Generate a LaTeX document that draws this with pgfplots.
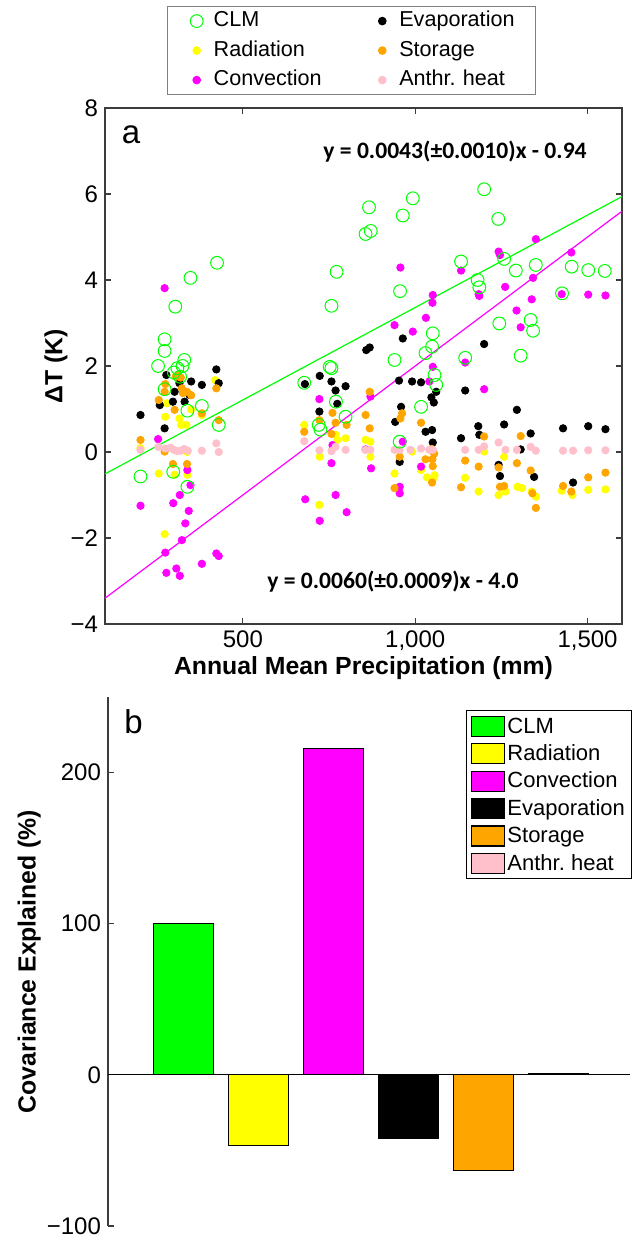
\documentclass[border=0pt]{standalone}
\usepackage{pgfplots}
\pgfplotsset{compat=1.18}
\usepackage{fontspec}
\setmainfont{Liberation Sans}
\newfontfamily\eqfont{Carlito}
\definecolor{cgreen}{RGB}{0,255,0}
\definecolor{cyellow}{RGB}{255,255,0}
\definecolor{cmag}{RGB}{255,0,255}
\definecolor{corange}{RGB}{255,165,0}
\definecolor{cpink}{RGB}{255,192,203}
\definecolor{axgray}{RGB}{60,60,60}
\begin{document}
\begin{tikzpicture}
\useasboundingbox (0,0) rectangle (317.5pt,620.5pt);
\pgfplotsset{
  dot/.style={only marks, mark=*, mark size=1.85pt},
  mybox/.style={legend image code/.code={\draw[##1] (0pt,-5pt) rectangle (16.5pt,5pt);}},
  mymark/.style={legend image code/.code={\path[draw=none, fill=none] (0pt,-1pt) rectangle (19pt,1pt); \draw[##1] plot coordinates {(12.5pt,0pt)};}},
}
% ---------------- panel a ----------------
\begin{axis}[
  at={(52.5pt,308.5pt)}, anchor=south west,
  scale only axis, width=258.5pt, height=258pt,
  xmin=100, xmax=1600, ymin=-4, ymax=8,
  xtick={500,1000,1500}, xticklabels={500,{1,000},{1,500}},
  ytick={-4,-2,0,2,4,6,8}, yticklabels={−4,−2,0,2,4,6,8},
  tick align=inside, major tick length=3pt,
  axis line style={draw=axgray, line width=0.6pt},
  tick style={draw=axgray, line width=0.6pt},
  ticklabel style={font=\fontsize{12}{14}\selectfont},
  xlabel={\bfseries Annual Mean Precipitation (mm)},
  ylabel={\bfseries ΔT (K)},
  label style={font=\fontsize{12.4}{14}\selectfont},
  xlabel style={at={(axis description cs:0.5,-0.0988)}, anchor=base},
  ylabel style={at={(axis description cs:-0.095,0.5)}, anchor=center},
  clip=false,
  legend columns=2,
  legend cell align=left,
  legend style={at={(0.4768,1.1977)}, anchor=north, draw=gray, line width=0.6pt,
    font=\fontsize{10.8}{12}\selectfont, inner xsep=2pt, inner ysep=0.5pt, row sep=1.25pt,
    nodes={inner ysep=1pt, text height=8.5pt, text depth=3pt, text width=64pt, align=left},
    /tikz/every even column/.append style={column sep=5.8pt}},
]
\addlegendimage{mymark, only marks, mark=o, mark size=3.2pt, draw=cgreen, line width=0.5pt}
\addlegendentry{CLM}
\addlegendimage{mymark, dot, black}
\addlegendentry{Evaporation}
\addlegendimage{mymark, dot, cyellow}
\addlegendentry{Radiation}
\addlegendimage{mymark, dot, corange}
\addlegendentry{Storage}
\addlegendimage{mymark, dot, cmag}
\addlegendentry{Convection}
\addlegendimage{mymark, dot, cpink}
\addlegendentry{Anthr.\ heat}

% fit lines
\addplot[cgreen, line width=0.6pt, forget plot] coordinates {(100,-0.51) (1600,5.94)};
\addplot[cmag, line width=0.6pt, forget plot] coordinates {(100,-3.4) (1600,5.6)};

% Radiation
\addplot[dot, cyellow, forget plot] coordinates {
(203,0.09) (256,-0.50) (273,-1.91) (275,0.82) (302,-0.53) (316,0.78) (321,0.63)
(336,0.63) (339,-0.53) (338,0.0) (350,0.99) (280,1.13) (420,1.67) (381,0.86)
(678,0.63) (722,-1.23) (723,-0.11) (769,0.40) (774,0.28) (798,0.32)
(856,0.28) (870,0.24) (870,-0.11) (940,-0.50) (955,-0.96) (991,0.01) (1017,-0.42)
(1034,-0.59) (1056,-0.54) (1052,-0.62) (1145,-0.60) (1184,-0.92) (1200,0.01) (1242,-1.0)
(1262,-0.92) (1258,-0.11) (1297,-0.81) (1310,-0.84) (1338,-0.92) (1350,-1.04)
(1425,-0.90) (1456,-1.0) (1502,-0.88) (1552,-0.87)
};
% Convection
\addplot[dot, cmag, forget plot] coordinates {
(273,3.81) (203,-1.25) (254,0.30) (275,-2.34) (278,-2.81) (307,-2.71) (317,-2.88)
(317,-1.0) (298,-1.19) (323,-2.05) (333,-1.66) (343,-1.37) (339,-0.42) (348,-0.77)
(381,-2.60) (423,-2.36) (430,-2.42) (681,-1.10) (723,-1.60) (722,1.23) (757,-0.26)
(760,0.16) (769,-1.0) (801,-1.40) (870,1.29) (856,0.06) (872,-0.38) (955,-0.81)
(955,-0.96) (964,0.24) (1017,-0.34) (1051,1.98) (1041,1.64) (1145,2.08) (1200,1.46)
(957,4.29) (1133,4.22) (1242,4.66) (1246,4.58) (1350,4.95) (1453,4.64) (1342,4.05)
(1425,3.67) (1502,3.66) (1552,3.64) (1261,3.84) (1338,3.55) (1184,3.67) (1186,3.63)
(1051,3.65) (1050,3.47) (1031,3.12) (1294,3.29) (1306,2.90) (940,2.95) (993,2.80)
};
% Evaporation
\addplot[dot, black, forget plot] coordinates {
(203,0.86) (278,1.79) (259,1.09) (273,0.55) (302,1.40) (297,1.17) (316,1.60)
(331,1.17) (350,1.64) (345,1.33) (381,1.56) (423,1.92) (430,1.60)
(680,1.58) (723,1.77) (722,0.94) (757,1.64) (769,1.43) (774,1.12) (798,1.53)
(964,2.64) (858,2.37) (868,2.43) (1200,2.51)
(953,1.66) (991,1.64) (1017,1.62) (1061,1.40) (1047,1.27) (1054,1.15) (1145,1.43)
(959,1.05) (942,0.70) (1030,0.47) (1049,0.51) (1051,0.22) (955,-0.23) (1133,0.32)
(1183,0.60) (1186,0.40) (1258,0.64) (1295,0.98) (1306,0.06) (1335,0.43) (1242,-0.30)
(1246,-0.56) (1345,-0.58) (1429,0.55) (1458,-0.71) (1502,0.60) (1552,0.53)
};
% Storage
\addplot[dot, corange, forget plot] coordinates {
(203,0.28) (256,1.21) (275,1.58) (273,1.40) (273,0.01) (302,0.98) (297,-0.28)
(305,1.75) (312,1.80) (320,1.73) (323,1.48) (326,1.37) (338,1.40) (338,-0.28)
(350,1.32) (381,0.90) (423,1.48) (430,0.74)
(678,0.47) (722,0.74) (757,0.42) (760,0.91) (769,0.68) (801,0.63)
(868,1.40) (856,0.86) (868,0.55) (962,0.90) (957,0.78) (955,-0.11) (940,-0.84)
(1017,0.68) (1030,-0.17) (1048,0.07) (1055,-0.04) (1050,-0.17) (1051,-0.33) (1049,-0.71)
(1145,-0.20) (1184,-0.34) (1200,0.36) (1133,-0.82) (1242,-0.36) (1246,-0.81) (1258,-0.79)
(1295,-0.26) (1306,0.37) (1335,-0.43) (1340,-0.96) (1350,-1.30) (1429,-0.79) (1453,-0.92)
(1502,-0.59) (1552,-0.48)
};
% Anthr. heat
\addplot[dot, cpink, forget plot] coordinates {
(203,0.05) (255,0.12) (275,0.08) (290,0.10) (300,0.05) (310,0.02) (320,0.03)
(330,0.07) (340,0.03) (381,0.03) (423,0.20) (430,0.0) (678,0.25) (722,0.04)
(757,0.02) (769,0.12) (798,0.05) (856,0.05) (870,0.05) (940,0.05) (955,0.05)
(986,0.05) (1017,0.08) (1041,0.05) (1051,0.05) (1145,0.05) (1184,0.05) (1200,0.13)
(1242,0.22) (1262,0.05) (1295,0.05) (1335,0.12) (1350,0.03) (1429,0.03) (1458,0.03)
(1502,0.04) (1552,0.04)
};
% CLM
\addplot[only marks, mark=o, mark size=3.2pt, draw=cgreen, line width=0.5pt, forget plot] coordinates {
(425,4.40) (348,4.05) (304,3.38) (273,2.62) (273,2.35) (330,2.14) (254,2.0)
(300,1.85) (310,1.95) (318,1.75) (325,2.0)
(752,1.98) (772,4.19) (757,3.40) (273,1.46) (381,1.07) (339,0.96) (430,0.63)
(203,-0.57) (298,-0.46) (339,-0.81) (757,1.95) (678,1.61) (770,1.17) (798,0.82)
(720,0.63) (725,0.52)
(1200,6.11) (993,5.90) (866,5.69) (964,5.50) (1241,5.42) (856,5.07) (871,5.14)
(1133,4.43) (1258,4.49) (1292,4.22) (1350,4.35) (1454,4.31) (1502,4.23) (1550,4.21)
(1181,4.0) (1186,3.83) (956,3.74) (1426,3.69) (1244,2.99) (1335,3.07) (1342,2.82)
(1051,2.76) (1049,2.45) (1030,2.30) (940,2.14) (1145,2.19) (1306,2.24)
(1056,1.79) (1061,1.56) (1017,1.05) (955,0.24)
};

\node[anchor=center, font=\fontsize{16.5}{18}\selectfont] at (rel axis cs:0.0503,0.9477) {a};
\node[anchor=west, font=\eqfont\bfseries\fontsize{11.8}{13}\selectfont, inner sep=0pt] at (rel axis cs:0.4217,0.9147) {y = 0.0043(±0.0010)x - 0.94};
\node[anchor=west, font=\eqfont\bfseries\fontsize{11.8}{13}\selectfont, inner sep=0pt] at (rel axis cs:0.3133,0.0814) {y = 0.0060(±0.0009)x - 4.0};
\end{axis}

% ---------------- panel b ----------------
\begin{axis}[
  at={(54pt,7.5pt)}, anchor=south west,
  scale only axis, width=263pt, height=264.5pt,
  xmin=0, xmax=7, ymin=-100, ymax=250,
  axis x line=none, axis y line*=left,
  ytick={-100,0,100,200}, yticklabels={−100,0,100,200},
  tick align=inside, major tick length=3pt,
  axis line style={draw=axgray, line width=0.6pt, -},
  tick style={draw=axgray, line width=0.6pt},
  ticklabel style={font=\fontsize{12}{14}\selectfont},
  ylabel={\bfseries Covariance Explained (\%)},
  label style={font=\fontsize{12.4}{14}\selectfont},
  ylabel style={at={(axis description cs:-0.150,0.5)}, anchor=center},
  clip=false,
  legend cell align=left,
  legend style={at={(0.996,0.975)}, anchor=north east, draw=black, line width=0.6pt,
    font=\fontsize{11}{12}\selectfont, inner xsep=2pt, inner ysep=1.2pt, row sep=0.6pt,
    nodes={inner sep=1.2pt, text height=8.7pt, text depth=2pt}},
]
\addlegendimage{mybox, fill=cgreen, draw=black, line width=0.6pt}
\addlegendentry{CLM}
\addlegendimage{mybox, fill=cyellow, draw=black, line width=0.6pt}
\addlegendentry{Radiation}
\addlegendimage{mybox, fill=cmag, draw=black, line width=0.6pt}
\addlegendentry{Convection}
\addlegendimage{mybox, fill=black, draw=black, line width=0.6pt}
\addlegendentry{Evaporation}
\addlegendimage{mybox, fill=corange, draw=black, line width=0.6pt}
\addlegendentry{Storage}
\addlegendimage{mybox, fill=cpink, draw=black, line width=0.6pt}
\addlegendentry{Anthr.\ heat}

\addplot[black, line width=0.6pt, forget plot] coordinates {(0,0) (6.95,0)};
\addplot[ybar, bar width=0.8, fill=cgreen, draw=black, line width=0.5pt, forget plot] coordinates {(1,100)};
\addplot[ybar, bar width=0.8, fill=cyellow, draw=black, line width=0.5pt, forget plot] coordinates {(2,-46.5)};
\addplot[ybar, bar width=0.8, fill=cmag, draw=black, line width=0.5pt, forget plot] coordinates {(3,216)};
\addplot[ybar, bar width=0.8, fill=black, draw=black, line width=0.5pt, forget plot] coordinates {(4,-42)};
\addplot[ybar, bar width=0.8, fill=corange, draw=black, line width=0.5pt, forget plot] coordinates {(5,-63.5)};
\addplot[ybar, bar width=0.8, fill=cpink, draw=black, line width=0.5pt, forget plot] coordinates {(6,1.2)};

\node[anchor=center, font=\fontsize{16.5}{18}\selectfont] at (rel axis cs:0.0485,0.9537) {b};
\end{axis}
\end{tikzpicture}
\end{document}
